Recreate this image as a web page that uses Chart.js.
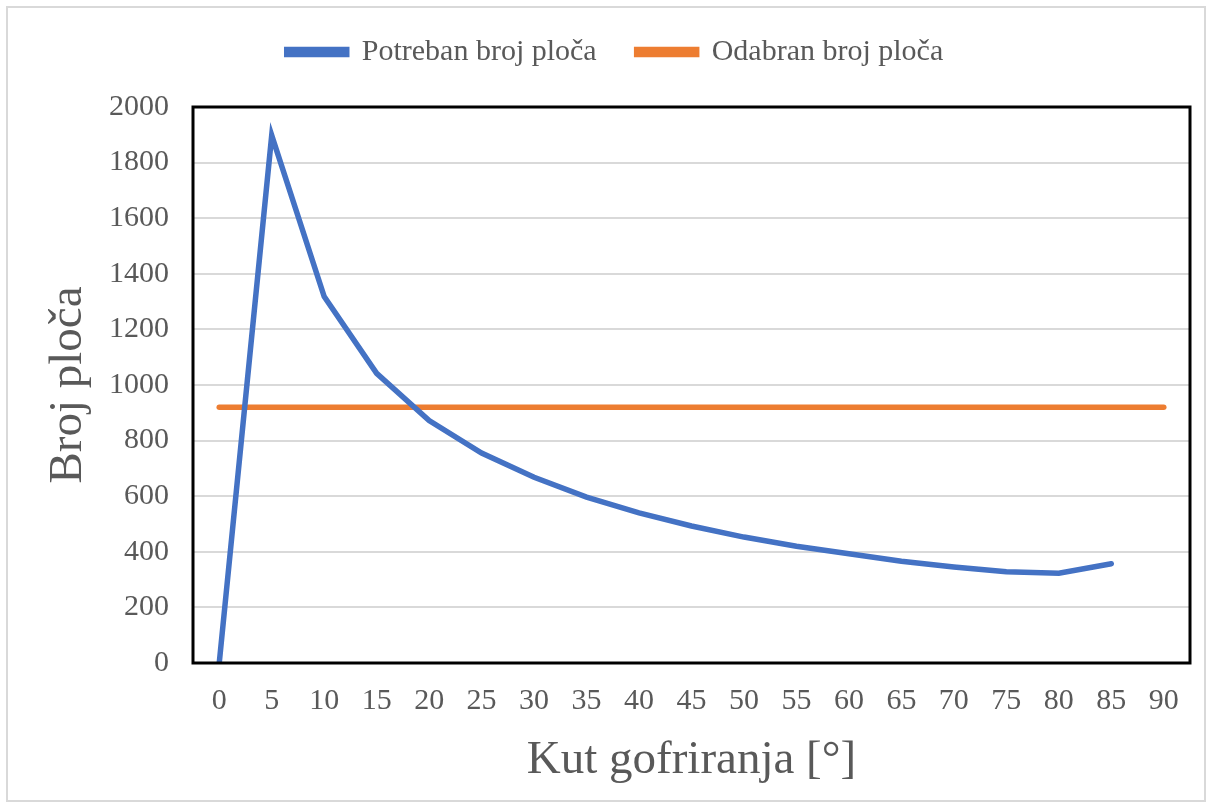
<!DOCTYPE html>
<html>
<head>
<meta charset="utf-8">
<script src="https://cdn.jsdelivr.net/npm/chart.js@4.4.0/dist/chart.umd.min.js"></script>
<style>
    html, body { margin: 0; padding: 0; background: #ffffff; }
    #wrap { width: 1212px; height: 809px; }
</style>
</head>
<body>
<div id="wrap"><canvas id="plate-chart" width="1212" height="809"></canvas></div>
<script>
// kut gofriranja [°]
const angles = ['0', '5', '10', '15', '20', '25', '30', '35', '40', '45', '50', '55', '60', '65', '70', '75', '80', '85', '90'];
// potreban broj ploča (nema vrijednosti za 90°)
const requiredPlates = [0, 1898, 1318, 1042, 872, 755, 668, 597, 540, 493, 453, 420, 393, 366, 345, 328, 323, 357, null];
// odabran broj ploča
const selectedPlates = [920, 920, 920, 920, 920, 920, 920, 920, 920, 920, 920, 920, 920, 920, 920, 920, 920, 920, 920];

const textColor = '#595959';
const serif = '"Liberation Serif", "Times New Roman", serif';

// okvir oko cijelog grafa i crni okvir oko područja crtanja
const frames = {
    id: 'frames',
    beforeInit(chart) {
        // malo više mjesta ispod legende
        const fit = chart.legend.fit;
        chart.legend.fit = function () {
            fit.call(this);
            this.height += 30;
        };
    },
    beforeDraw(chart) {
        const ctx = chart.ctx;
        ctx.save();
        ctx.strokeStyle = '#d9d9d9';
        ctx.lineWidth = 2;
        ctx.strokeRect(7, 7, 1198, 794);
        ctx.restore();
    },
    afterDatasetsDraw(chart) {
        const a = chart.chartArea;
        const ctx = chart.ctx;
        ctx.save();
        ctx.strokeStyle = '#000000';
        ctx.lineWidth = 3;
        ctx.strokeRect(a.left, a.top, a.right - a.left, a.bottom - a.top);
        ctx.restore();
    }
};

const ctx = document.getElementById('plate-chart').getContext('2d');
new Chart(ctx, {
    type: 'line',
    data: {
        labels: angles,
        datasets: [{
            label: 'Potreban broj ploča',
            data: requiredPlates,
            borderColor: '#4472C4',
            backgroundColor: '#4472C4',
            borderWidth: 5.5,
            borderCapStyle: 'round',
            pointRadius: 0,
            tension: 0,
            spanGaps: false
        }, {
            label: 'Odabran broj ploča',
            data: selectedPlates,
            borderColor: '#ED7D31',
            backgroundColor: '#ED7D31',
            borderWidth: 5.5,
            borderCapStyle: 'round',
            pointRadius: 0,
            tension: 0
        }]
    },
    options: {
        responsive: false,
        animation: false,
        layout: {
            padding: { top: -3, right: 22, bottom: 20, left: 40 }
        },
        scales: {
            x: {
                offset: true,
                grid: { display: false, drawTicks: false },
                border: { display: false },
                ticks: {
                    color: textColor,
                    font: { family: serif, size: 30 },
                    padding: 20,
                    maxRotation: 0,
                    autoSkip: false
                },
                title: {
                    display: true,
                    text: 'Kut gofriranja [°]',
                    color: textColor,
                    font: { family: serif, size: 47 },
                    padding: 0
                },
                afterFit: function (scale) { scale.height = 126; }
            },
            y: {
                min: 0,
                max: 2000,
                grid: { color: '#d9d9d9', lineWidth: 2, drawTicks: false },
                border: { display: false },
                ticks: {
                    stepSize: 200,
                    color: textColor,
                    font: { family: serif, size: 30 },
                    padding: 24,
                    callback: function (value) { return String(value); }
                },
                title: {
                    display: true,
                    text: 'Broj ploča',
                    color: textColor,
                    font: { family: serif, size: 47 },
                    padding: 0
                },
                afterFit: function (scale) { scale.width = 153; }
            }
        },
        plugins: {
            legend: {
                position: 'top',
                labels: {
                    color: textColor,
                    font: { family: serif, size: 30 },
                    boxWidth: 60,
                    boxHeight: 5,
                    padding: 40
                }
            },
            tooltip: { enabled: false }
        }
    },
    plugins: [frames]
});
</script>
</body>
</html>
